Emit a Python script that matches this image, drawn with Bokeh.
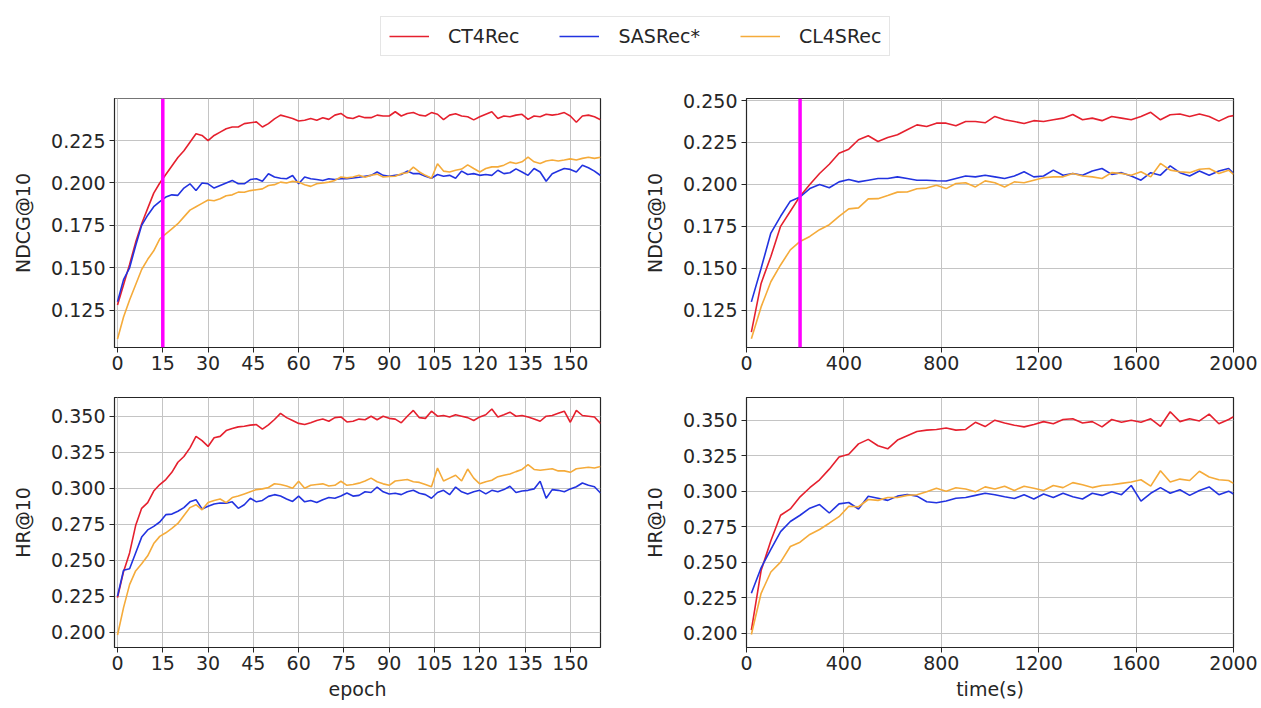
from bokeh.plotting import figure
from bokeh.models import Range1d, FixedTicker, NumeralTickFormatter, Span, Legend, LegendItem
from bokeh.layouts import column, row
from bokeh.embed import file_html
from bokeh.resources import INLINE

# ---------------------------------------------------------------- data
models = ["CT4Rec", "SASRec*", "CL4SRec"]

epochs = list(range(0, 161, 2))
times = list(range(20, 2000, 40)) + [2000]

# NDCG@10 per epoch
ct_ndcg_ep = [
    0.128, 0.140, 0.152, 0.165, 0.176, 0.185, 0.194, 0.200, 0.205, 0.210,
    0.215, 0.219, 0.224, 0.229, 0.228, 0.225, 0.228, 0.230, 0.232, 0.233,
    0.233, 0.235, 0.2355, 0.236, 0.233, 0.235, 0.2378, 0.240, 0.239, 0.238,
    0.2365, 0.237, 0.238, 0.237, 0.2385, 0.2375, 0.240, 0.241, 0.2385, 0.238,
    0.2395, 0.2385, 0.2385, 0.240, 0.2395, 0.2395, 0.242, 0.2395, 0.241, 0.2415,
    0.240, 0.2395, 0.2415, 0.2405, 0.2373, 0.240, 0.2408, 0.2395, 0.239, 0.2372,
    0.239, 0.2405, 0.242, 0.238, 0.2395, 0.239, 0.240, 0.2405, 0.2375, 0.2395,
    0.239, 0.2405, 0.240, 0.2405, 0.2415, 0.2395, 0.2358, 0.2395, 0.240, 0.239,
    0.2373]
sas_ndcg_ep = [
    0.130, 0.143, 0.150, 0.163, 0.175, 0.181, 0.186, 0.189, 0.1917, 0.193,
    0.1927, 0.197, 0.1995, 0.1956, 0.200, 0.1995, 0.197, 0.1985, 0.200, 0.2015,
    0.1995, 0.1995, 0.202, 0.2025, 0.201, 0.2054, 0.2035, 0.2028, 0.2025, 0.2044,
    0.1995, 0.2035, 0.2025, 0.202, 0.2015, 0.2025, 0.202, 0.2025, 0.2025, 0.203,
    0.2034, 0.204, 0.2045, 0.2065, 0.2045, 0.204, 0.2045, 0.205, 0.207, 0.2055,
    0.2055, 0.204, 0.2028, 0.205, 0.204, 0.2045, 0.2028, 0.207, 0.205, 0.2055,
    0.2045, 0.205, 0.2045, 0.2075, 0.2055, 0.206, 0.2083, 0.2065, 0.2045, 0.2085,
    0.2065, 0.201, 0.2055, 0.207, 0.2085, 0.208, 0.2065, 0.2105, 0.209, 0.207,
    0.2044]
cl_ndcg_ep = [
    0.108, 0.121, 0.131, 0.140, 0.149, 0.155, 0.160, 0.167, 0.170, 0.173,
    0.176, 0.180, 0.184, 0.186, 0.188, 0.190, 0.1895, 0.1907, 0.1925, 0.193,
    0.1946, 0.1945, 0.1955, 0.196, 0.1965, 0.1985, 0.199, 0.2005, 0.200, 0.201,
    0.2005, 0.199, 0.198, 0.1995, 0.200, 0.2005, 0.2015, 0.2035, 0.203, 0.2035,
    0.2045, 0.2034, 0.2045, 0.2052, 0.2035, 0.2038, 0.204, 0.2055, 0.206, 0.2093,
    0.2065, 0.2045, 0.2028, 0.2113, 0.207, 0.2065, 0.2075, 0.2082, 0.2107, 0.2085,
    0.2065, 0.2085, 0.2095, 0.2095, 0.2105, 0.2123, 0.2115, 0.2125, 0.2152, 0.2125,
    0.2115, 0.213, 0.2135, 0.213, 0.2135, 0.2142, 0.2135, 0.2145, 0.2152, 0.2145,
    0.2152]

# HR@10 per epoch
ct_hr_ep = [
    0.224, 0.242, 0.255, 0.274, 0.286, 0.290, 0.298, 0.3025, 0.306, 0.311,
    0.318, 0.322, 0.328, 0.336, 0.333, 0.329, 0.335, 0.336, 0.340, 0.3415,
    0.3426, 0.343, 0.3438, 0.3442, 0.341, 0.344, 0.3477, 0.352, 0.349, 0.347,
    0.345, 0.3442, 0.3455, 0.347, 0.348, 0.3465, 0.349, 0.3495, 0.346, 0.3465,
    0.348, 0.3475, 0.350, 0.3475, 0.350, 0.3485, 0.348, 0.3454, 0.350, 0.354,
    0.349, 0.3485, 0.3535, 0.350, 0.3505, 0.3495, 0.351, 0.350, 0.349, 0.347,
    0.3495, 0.351, 0.355, 0.3495, 0.351, 0.3528, 0.350, 0.3505, 0.3495, 0.348,
    0.3465, 0.350, 0.3505, 0.352, 0.3535, 0.3458, 0.354, 0.3505, 0.350, 0.3495,
    0.345]
sas_hr_ep = [
    0.225, 0.243, 0.244, 0.255, 0.266, 0.271, 0.2735, 0.2765, 0.2816, 0.282,
    0.284, 0.2865, 0.2905, 0.292, 0.2855, 0.2874, 0.289, 0.2897, 0.2895, 0.2905,
    0.286, 0.2885, 0.293, 0.2905, 0.2915, 0.2943, 0.2955, 0.2945, 0.2925, 0.2908,
    0.2945, 0.2905, 0.2915, 0.290, 0.292, 0.2935, 0.293, 0.2945, 0.2966, 0.2945,
    0.295, 0.2975, 0.297, 0.3008, 0.2975, 0.296, 0.2965, 0.2955, 0.2975, 0.2985,
    0.2965, 0.2955, 0.293, 0.297, 0.2985, 0.2955, 0.3008, 0.2975, 0.296, 0.2975,
    0.2985, 0.296, 0.2985, 0.2975, 0.299, 0.3013, 0.297, 0.298, 0.2985, 0.2995,
    0.3048, 0.293, 0.299, 0.2985, 0.2975, 0.2995, 0.301, 0.3036, 0.302, 0.301,
    0.2966]
cl_hr_ep = [
    0.198, 0.217, 0.233, 0.2425, 0.2475, 0.253, 0.2615, 0.2665, 0.269, 0.272,
    0.2755, 0.281, 0.2865, 0.2885, 0.285, 0.290, 0.2915, 0.2925, 0.290, 0.2935,
    0.2945, 0.296, 0.2975, 0.299, 0.2995, 0.3005, 0.3031, 0.3025, 0.3015, 0.300,
    0.3048, 0.300, 0.302, 0.3025, 0.303, 0.3015, 0.302, 0.3048, 0.302, 0.3025,
    0.3035, 0.305, 0.307, 0.3045, 0.303, 0.302, 0.305, 0.3055, 0.306, 0.3045,
    0.304, 0.3025, 0.301, 0.314, 0.305, 0.307, 0.309, 0.305, 0.3133, 0.307,
    0.303, 0.3045, 0.3055, 0.308, 0.309, 0.3098, 0.3115, 0.313, 0.3164, 0.313,
    0.3125, 0.313, 0.3135, 0.312, 0.312, 0.311, 0.3135, 0.314, 0.3145, 0.314,
    0.315]

# NDCG@10 against wall-clock time
ct_ndcg_t = [
    0.112, 0.141, 0.157, 0.175, 0.184, 0.193, 0.200, 0.2065, 0.212, 0.2186,
    0.221, 0.2266, 0.229, 0.2256, 0.228, 0.2296, 0.2326, 0.2355, 0.2345, 0.2365,
    0.2365, 0.235, 0.2375, 0.2375, 0.2367, 0.2405, 0.2385, 0.2375, 0.2363, 0.238,
    0.2375, 0.2385, 0.2395, 0.2417, 0.2385, 0.2395, 0.238, 0.2405, 0.2395, 0.2385,
    0.2405, 0.243, 0.2385, 0.2415, 0.242, 0.2405, 0.242, 0.2405, 0.2377, 0.2405,
    0.241]
sas_ndcg_t = [
    0.130, 0.150, 0.171, 0.181, 0.190, 0.1925, 0.1975, 0.200, 0.198, 0.2015,
    0.2029, 0.2015, 0.2025, 0.2035, 0.2035, 0.2045, 0.2035, 0.2025, 0.2025, 0.2022,
    0.202, 0.2035, 0.205, 0.2045, 0.2055, 0.2045, 0.2035, 0.205, 0.2075, 0.2045,
    0.205, 0.2085, 0.2055, 0.2065, 0.2055, 0.208, 0.2095, 0.206, 0.207, 0.205,
    0.2025, 0.207, 0.2055, 0.211, 0.207, 0.205, 0.208, 0.2055, 0.208, 0.2095,
    0.2065]
cl_ndcg_t = [
    0.108, 0.127, 0.142, 0.152, 0.161, 0.166, 0.169, 0.173, 0.176, 0.181,
    0.1854, 0.186, 0.1914, 0.1915, 0.1934, 0.1954, 0.1955, 0.1974, 0.1978, 0.1995,
    0.1975, 0.2005, 0.201, 0.1985, 0.2021, 0.201, 0.1985, 0.2015, 0.201, 0.2025,
    0.204, 0.2045, 0.2045, 0.2065, 0.205, 0.2045, 0.2035, 0.207, 0.2065, 0.2055,
    0.2075, 0.2045, 0.2125, 0.2085, 0.2075, 0.207, 0.209, 0.2095, 0.2065, 0.2085,
    0.206]

# HR@10 against wall-clock time
ct_hr_t = [
    0.202, 0.244, 0.265, 0.283, 0.2875, 0.296, 0.3024, 0.308, 0.3155, 0.324,
    0.326, 0.3333, 0.3365, 0.332, 0.3298, 0.336, 0.339, 0.342, 0.343, 0.3435,
    0.3445, 0.343, 0.3435, 0.3485, 0.3455, 0.350, 0.348, 0.3465, 0.3453, 0.347,
    0.349, 0.3475, 0.3505, 0.351, 0.348, 0.349, 0.3453, 0.3505, 0.3485, 0.350,
    0.3485, 0.351, 0.3457, 0.356, 0.349, 0.351, 0.3495, 0.3543, 0.3475, 0.3505,
    0.3524]
sas_hr_t = [
    0.228, 0.246, 0.259, 0.2715, 0.2786, 0.283, 0.288, 0.2905, 0.2846, 0.291,
    0.292, 0.2874, 0.2964, 0.295, 0.2935, 0.2965, 0.2976, 0.2965, 0.2925, 0.2918,
    0.293, 0.295, 0.2955, 0.297, 0.2985, 0.2975, 0.296, 0.2948, 0.2975, 0.2945,
    0.298, 0.2955, 0.2985, 0.296, 0.2945, 0.2985, 0.297, 0.2995, 0.2975, 0.304,
    0.293, 0.2985, 0.3025, 0.2985, 0.301, 0.297, 0.3005, 0.303, 0.2975, 0.300,
    0.298]
cl_hr_t = [
    0.199, 0.228, 0.243, 0.250, 0.261, 0.264, 0.2695, 0.273, 0.2774, 0.282,
    0.2893, 0.289, 0.2941, 0.2935, 0.2955, 0.2955, 0.297, 0.2975, 0.2995, 0.302,
    0.300, 0.3024, 0.3015, 0.2995, 0.303, 0.3015, 0.3035, 0.3005, 0.3035, 0.302,
    0.3005, 0.304, 0.3025, 0.306, 0.3045, 0.3025, 0.304, 0.3045, 0.3055, 0.3065,
    0.308, 0.3035, 0.3144, 0.3065, 0.3085, 0.3075, 0.314, 0.310, 0.308, 0.3075,
    0.3055]

epoch_ticks = [0, 15, 30, 45, 60, 75, 90, 105, 120, 135, 150]
time_ticks = [0, 400, 800, 1200, 1600, 2000]
ndcg_ticks = [0.125, 0.150, 0.175, 0.200, 0.225, 0.250]
hr_ticks = [0.200, 0.225, 0.250, 0.275, 0.300, 0.325, 0.350]

marker_epoch = 15
marker_time = 220

# ---------------------------------------------------------------- style
FONT = "DejaVu Sans"
TEXT = "#262626"
COLORS = ["#e5202e", "#2233e0", "#f5ab3a"]
MAGENTA = "#ff00ff"
FS = "19px"


def panel(x, ys, x_range, y_range, xticks, yticks, ylabel, xlabel,
          width, height, left, right, top, bottom, marker=None):
    p = figure(width=width, height=height,
               x_range=Range1d(*x_range), y_range=Range1d(*y_range),
               output_backend="svg", toolbar_location=None,
               min_border_left=left, min_border_right=right,
               min_border_top=top, min_border_bottom=bottom,
               background_fill_color="white", border_fill_color="white")
    p.xaxis.ticker = FixedTicker(ticks=xticks)
    p.yaxis.ticker = FixedTicker(ticks=yticks)
    p.yaxis.formatter = NumeralTickFormatter(format="0.000")
    p.axis.major_label_text_font = FONT
    p.axis.major_label_text_font_size = FS
    p.axis.major_label_text_color = TEXT
    p.axis.axis_line_color = TEXT
    p.axis.major_tick_line_color = TEXT
    p.axis.major_tick_out = 5
    p.axis.major_tick_in = 0
    p.axis.minor_tick_line_color = None
    p.xaxis.major_label_standoff = 3
    p.yaxis.major_label_standoff = 4
    p.axis.axis_label_text_font = FONT
    p.axis.axis_label_text_font_size = FS
    p.axis.axis_label_text_font_style = "normal"
    p.axis.axis_label_text_color = TEXT
    p.yaxis.axis_label = ylabel
    p.yaxis.axis_label_standoff = 14
    if xlabel:
        p.xaxis.axis_label = xlabel
        p.xaxis.axis_label_standoff = 5
    p.grid.grid_line_color = "#c4c4c4"
    p.grid.grid_line_width = 1
    p.outline_line_color = TEXT
    p.outline_line_width = 1.2
    for y, c in zip(ys, COLORS):
        p.line(x, y, line_color=c, line_width=1.6)
    if marker is not None:
        p.add_layout(Span(location=marker, dimension="height",
                          line_color=MAGENTA, line_width=3.5))
    return p


# ---------------------------------------------------------------- panels
p_ndcg_ep = panel(epochs, [ct_ndcg_ep, sas_ndcg_ep, cl_ndcg_ep], (-1, 160), (0.1030, 0.2498),
                  epoch_ticks, ndcg_ticks, "NDCG@10", None,
                  640, 297, 114, 40, 8, 40, marker=marker_epoch)
p_ndcg_t = panel(times, [ct_ndcg_t, sas_ndcg_t, cl_ndcg_t], (0, 2000), (0.1028, 0.2512),
                 time_ticks, ndcg_ticks, "NDCG@10", None,
                 621, 297, 106, 28, 8, 40, marker=marker_time)
p_hr_ep = panel(epochs, [ct_hr_ep, sas_hr_ep, cl_hr_ep], (-1, 160), (0.1893, 0.3630),
                epoch_ticks, hr_ticks, "HR@10", "epoch",
                640, 321, 114, 40, 10, 61)
p_hr_t = panel(times, [ct_hr_t, sas_hr_t, cl_hr_t], (0, 2000), (0.1898, 0.3660),
               time_ticks, hr_ticks, "HR@10", "time(s)",
               621, 321, 106, 28, 10, 61)

# ---------------------------------------------------------------- legend strip
head = figure(width=1261, height=90, x_range=Range1d(0, 1), y_range=Range1d(0, 1),
              x_axis_location=None, y_axis_location=None,
              output_backend="svg", toolbar_location=None,
              min_border=0, outline_line_color=None,
              background_fill_color="white", border_fill_color="white")
head.grid.visible = False
items = []
nan = float("nan")
for name, c in zip(models, COLORS):
    # placeholder renderer (a single NaN point) so the legend can draw its swatch
    r = head.line(x=[nan], y=[nan], line_color=c, line_width=1.6)
    items.append(LegendItem(label=name, renderers=[r]))
legend = Legend(items=items, orientation="horizontal", location=(380, 34),
                padding=8, spacing=40, margin=0,
                glyph_width=40, glyph_height=22, label_height=22, label_standoff=19,
                label_text_font=FONT, label_text_font_size=FS, label_text_color=TEXT,
                border_line_color="#cccccc", border_line_width=1,
                background_fill_color="white")
head.add_layout(legend)

layout = column(head, row(p_ndcg_ep, p_ndcg_t), row(p_hr_ep, p_hr_t))

with open("out.html", "w") as f:
    f.write(file_html(layout, INLINE))
